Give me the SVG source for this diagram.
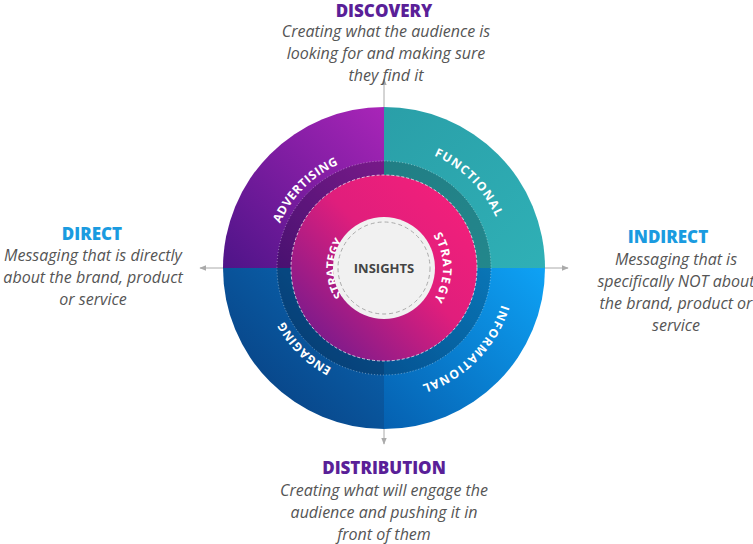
<svg xmlns="http://www.w3.org/2000/svg" width="753" height="544" viewBox="0 0 753 544">
<defs>
<linearGradient id="gTL" x1="0" y1="1" x2="1" y2="0"><stop offset="0" stop-color="#4e1488"/><stop offset="1" stop-color="#a925b8"/></linearGradient>
<linearGradient id="gTR" x1="0" y1="0" x2="1" y2="1"><stop offset="0" stop-color="#2a9fa8"/><stop offset="1" stop-color="#2fb0b6"/></linearGradient>
<linearGradient id="gBR" x1="1" y1="0" x2="0" y2="1"><stop offset="0" stop-color="#0ea2f5"/><stop offset="1" stop-color="#0560b0"/></linearGradient>
<linearGradient id="gBL" x1="1" y1="0" x2="0" y2="1"><stop offset="0" stop-color="#0a6bb8"/><stop offset="1" stop-color="#083a7a"/></linearGradient>
<linearGradient id="gPink" x1="1" y1="0" x2="0" y2="1"><stop offset="0" stop-color="#f8207a"/><stop offset="0.45" stop-color="#e01e7c"/><stop offset="1" stop-color="#5e1a90"/></linearGradient>
<marker id="arr" viewBox="0 0 10 10" refX="9" refY="5" markerWidth="7" markerHeight="7" orient="auto-start-reverse"><path d="M0,1 L10,5 L0,9 z" fill="#aaa"/></marker>
<path id="ring" d="M384,391 A123,123 0 1 1 384,145 A123,123 0 1 1 384,391"/>
<path id="ringS" d="M384,327 A59,59 0 1 1 384,209 A59,59 0 1 1 384,327"/>
</defs>
<style>
.ring{font-family:"Open Sans","DejaVu Sans",sans-serif;font-weight:bold;font-size:12px;fill:#fff;letter-spacing:1.2px}
.h{font-family:"Open Sans","Liberation Sans",sans-serif;font-weight:800;font-size:17px;text-anchor:middle}
.b{font-family:"Open Sans","Liberation Sans",sans-serif;font-style:italic;font-size:16px;fill:#555;text-anchor:middle}
.conn{stroke:#aaa;stroke-width:1;fill:none}
</style>
<g id="connectors">
<line class="conn" x1="384" y1="107" x2="384" y2="79" marker-end="url(#arr)"/>
<line class="conn" x1="384" y1="429" x2="384" y2="444" marker-end="url(#arr)"/>
<line class="conn" x1="223" y1="268" x2="200" y2="268" marker-end="url(#arr)"/>
<line class="conn" x1="545" y1="268" x2="568" y2="268" marker-end="url(#arr)"/>
</g>
<g id="wheel">
<path d="M384,268 L223,268 A161,161 0 0 1 384,107 Z" fill="url(#gTL)"/>
<path d="M384,268 L384,107 A161,161 0 0 1 545,268 Z" fill="url(#gTR)"/>
<path d="M384,268 L545,268 A161,161 0 0 1 384,429 Z" fill="url(#gBR)"/>
<path d="M384,268 L384,429 A161,161 0 0 1 223,268 Z" fill="url(#gBL)"/>
<circle cx="384" cy="268" r="107" fill="#000" fill-opacity="0.22"/>
<circle cx="384" cy="268" r="107" fill="none" stroke="#fff" stroke-opacity="0.4" stroke-dasharray="1 2"/>
<circle cx="384" cy="268" r="93" fill="url(#gPink)"/>
<circle cx="384" cy="268" r="93" fill="none" stroke="#fff" stroke-opacity="0.7" stroke-dasharray="3 2"/>
</g>
<g id="functional"><text class="ring" text-anchor="middle"><textPath href="#ring" startOffset="62.5%">FUNCTIONAL</textPath></text></g>
<g id="informational"><text class="ring" text-anchor="middle"><textPath href="#ring" startOffset="87.5%">INFORMATIONAL</textPath></text></g>
<g id="engaging"><text class="ring" text-anchor="middle" dominant-baseline="hanging"><textPath href="#ring" startOffset="12.5%">ENGAGING</textPath></text></g>
<g id="advertising"><text class="ring" text-anchor="middle" dominant-baseline="hanging"><textPath href="#ring" startOffset="37.5%">ADVERTISING</textPath></text></g>
<g id="strategy-top"><text class="ring" text-anchor="middle"><textPath href="#ringS" startOffset="75%">STRATEGY</textPath></text></g>
<g id="strategy-bottom"><text class="ring" text-anchor="middle" dominant-baseline="hanging"><textPath href="#ringS" startOffset="25%">STRATEGY</textPath></text></g>
<g id="insights">
<circle cx="384" cy="268" r="51" fill="#f1f1f1"/>
<circle cx="384" cy="268" r="46" fill="none" stroke="#aaa" stroke-dasharray="4 3"/>
<text x="384" y="273" text-anchor="middle" font-family="Open Sans, DejaVu Sans, sans-serif" font-weight="bold" font-size="13" fill="#444">INSIGHTS</text>
</g>
<g id="discovery">
<text class="h" x="384" y="17" fill="#5a1f98">DISCOVERY</text>
<text class="b" x="386" y="37">Creating what the audience is</text>
<text class="b" x="386" y="59">looking for and making sure</text>
<text class="b" x="386" y="81">they find it</text>
</g>
<g id="direct">
<text class="h" x="92" y="240" fill="#1a9be0">DIRECT</text>
<text class="b" x="93" y="261">Messaging that is directly</text>
<text class="b" x="93" y="283">about the brand, product</text>
<text class="b" x="93" y="305">or service</text>
</g>
<g id="indirect">
<text class="h" x="668" y="243" fill="#1a9be0">INDIRECT</text>
<text class="b" x="676" y="265">Messaging that is</text>
<text class="b" x="676" y="287">specifically NOT about</text>
<text class="b" x="676" y="309">the brand, product or</text>
<text class="b" x="676" y="331">service</text>
</g>
<g id="distribution">
<text class="h" x="384" y="474" fill="#5a1f98">DISTRIBUTION</text>
<text class="b" x="384" y="496">Creating what will engage the</text>
<text class="b" x="384" y="518">audience and pushing it in</text>
<text class="b" x="384" y="540">front of them</text>
</g>
</svg>
